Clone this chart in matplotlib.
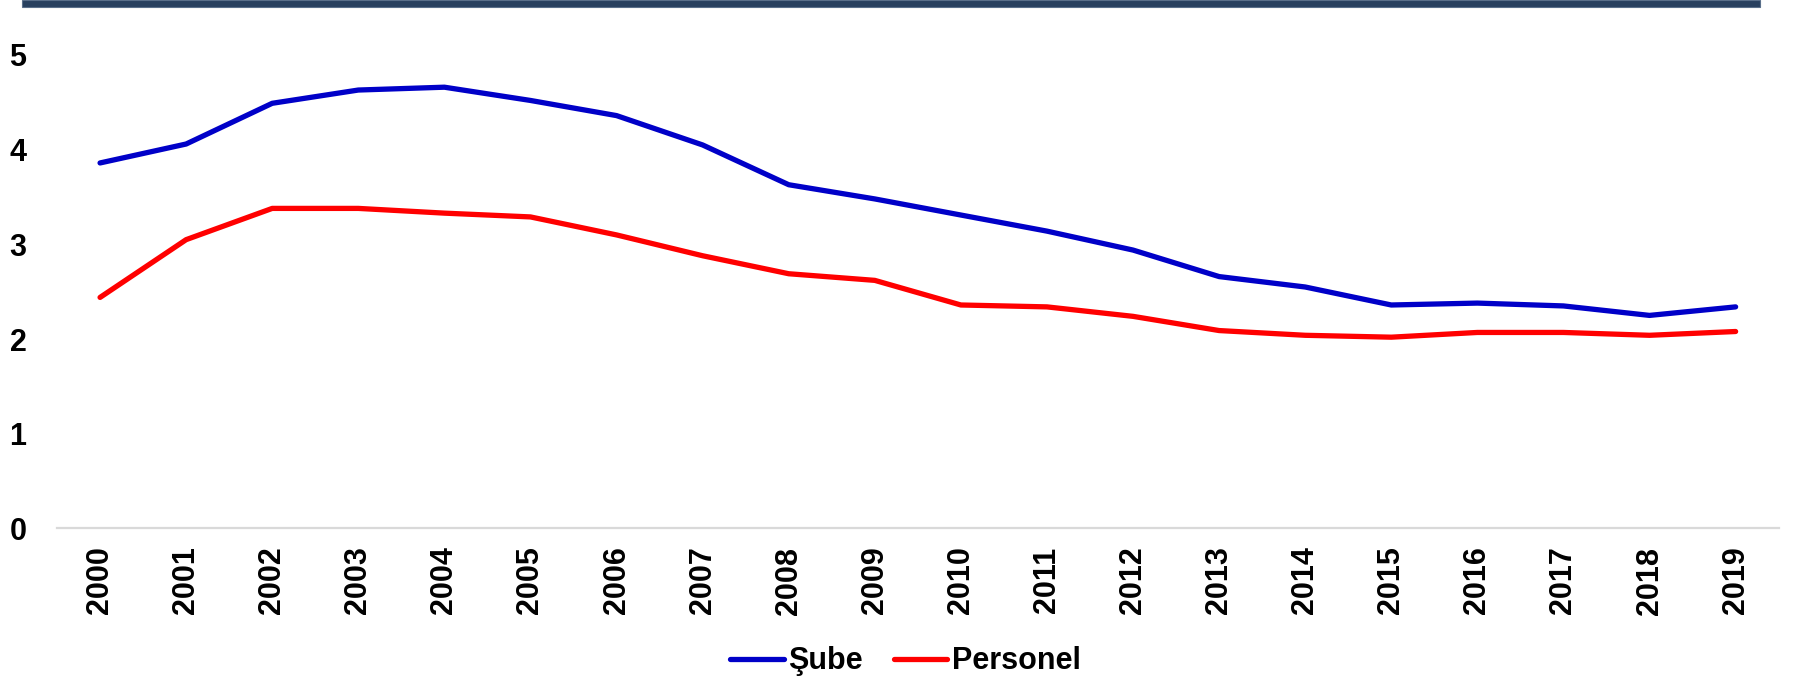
import matplotlib.pyplot as plt
from matplotlib.patches import Rectangle

# Yearly values for branches (Şube) and staff (Personel)
years = [str(y) for y in range(2000, 2020)]
sube = [3.86, 4.06, 4.49, 4.63, 4.66, 4.52, 4.36, 4.05, 3.63, 3.48,
        3.31, 3.14, 2.94, 2.66, 2.55, 2.36, 2.38, 2.35, 2.25, 2.34]
personel = [2.44, 3.05, 3.38, 3.38, 3.33, 3.29, 3.10, 2.88, 2.69, 2.62,
            2.36, 2.34, 2.24, 2.09, 2.04, 2.02, 2.07, 2.07, 2.04, 2.08]
y_ticks = [0, 1, 2, 3, 4, 5]

plt.rcParams['font.family'] = ['Liberation Sans', 'DejaVu Sans']
plt.rcParams['font.weight'] = 'bold'

fig = plt.figure(figsize=(17.93, 6.79), dpi=100)
ax = fig.add_axes([0.0318, 0.2217, 0.9602, 0.6973])

x = range(len(years))
ax.plot(x, sube, color='#0000C8', lw=3.8, solid_capstyle='round', label='Şube')
ax.plot(x, personel, color='#FF0000', lw=3.8, solid_capstyle='round', label='Personel')

ax.set_xlim(-0.5, len(years) - 0.5)
ax.set_ylim(0, 5)
ax.set_yticks(y_ticks)
ax.set_yticklabels([str(t) for t in y_ticks], fontsize=22, fontweight='bold')
ax.set_xticks(list(x))
ax.set_xticklabels(years, rotation=90, fontsize=22, fontweight='bold')
ax.tick_params(axis='both', length=0)
ax.tick_params(axis='y', pad=22)
ax.tick_params(axis='x', pad=13)

for side in ['top', 'right', 'left']:
    ax.spines[side].set_visible(False)
ax.spines['bottom'].set_color('#D9D9D9')
ax.spines['bottom'].set_linewidth(1.6)

fig.legend(loc='center', bbox_to_anchor=(0.505, 0.026), ncol=2, frameon=False,
           handlelength=1.75, handletextpad=0.15, columnspacing=1.0,
           prop={'weight': 'bold', 'size': 22})

# dark header band along the top edge
fig.patches.append(Rectangle((22 / 1793, 1 - 7 / 679), (1760 - 22) / 1793, 7 / 679,
                             transform=fig.transFigure, facecolor='#28405F',
                             edgecolor='#5A6F8A', lw=0.8))

fig.savefig('out.png', dpi=100)
